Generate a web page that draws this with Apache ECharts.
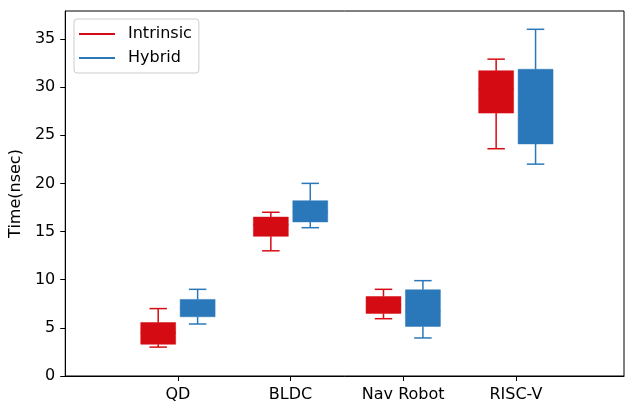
<!DOCTYPE html>
<html>
<head>
<meta charset="utf-8">
<script src="https://cdn.jsdelivr.net/npm/echarts@6/dist/echarts.min.js"></script>
<style>
html,body{margin:0;padding:0;background:#fff;}
#chart{width:625px;height:403px;}
</style>
</head>
<body>
<div id="chart"></div>
<script>
// Categories and values: [min, Q1, median, Q3, max]
const categories = ['QD', 'BLDC', 'Nav Robot', 'RISC-V'];
const intrinsic = [
  [3.0, 3.3, 4.5, 5.55, 7.0],
  [13.0, 14.5, 15.7, 16.5, 17.0],
  [5.95, 6.5, 7.4, 8.25, 9.0],
  [23.6, 27.3, 29.8, 31.7, 32.9]
];
const hybrid = [
  [5.4, 6.15, 7.0, 7.95, 9.0],
  [15.4, 16.0, 17.0, 18.2, 20.0],
  [3.95, 5.15, 6.7, 8.95, 9.9],
  [22.0, 24.1, 28.4, 31.85, 36.0]
];
const yTicks = [0, 5, 10, 15, 20, 25, 30, 35];

const RED = '#d50b13';
const BLUE = '#2a78b9';
const FONT = 'DejaVu Sans';
const BOX_W = 0.31;   // box width in data units
const OFFSET = 0.175; // group offset in data units

function toData(arr) {
  return arr.map((v, i) => [i + 1].concat(v));
}

function makeRender(offset) {
  return function (params, api) {
    const x = api.value(0) + offset;
    const mn = api.value(1), q1 = api.value(2), med = api.value(3), q3 = api.value(4), mx = api.value(5);
    const w = api.size([BOX_W, 0])[0];
    const pMin = api.coord([x, mn]);
    const pQ1 = api.coord([x, q1]);
    const pMed = api.coord([x, med]);
    const pQ3 = api.coord([x, q3]);
    const pMax = api.coord([x, mx]);
    const color = api.visual('color');
    const cx = pMin[0];
    const lineStyle = { stroke: color, lineWidth: 1.5, fill: null };
    return {
      type: 'group',
      children: [
        { type: 'line', shape: { x1: cx, y1: pMin[1], x2: cx, y2: pQ1[1] }, style: lineStyle },
        { type: 'line', shape: { x1: cx, y1: pQ3[1], x2: cx, y2: pMax[1] }, style: lineStyle },
        { type: 'line', shape: { x1: cx - w / 4, y1: pMin[1], x2: cx + w / 4, y2: pMin[1] }, style: lineStyle },
        { type: 'line', shape: { x1: cx - w / 4, y1: pMax[1], x2: cx + w / 4, y2: pMax[1] }, style: lineStyle },
        { type: 'rect', shape: { x: cx - w / 2, y: pQ3[1], width: w, height: pQ1[1] - pQ3[1] },
          style: { fill: color, stroke: color, lineWidth: 1, strokeOpacity: 0.5 } },
        { type: 'line', shape: { x1: cx - w / 2, y1: pMed[1], x2: cx + w / 2, y2: pMed[1] }, style: { stroke: color, lineWidth: 1.5 } }
      ]
    };
  };
}

const chart = echarts.init(document.getElementById('chart'), null, { renderer: 'canvas' });
chart.setOption({
  animation: false,
  backgroundColor: '#fff',
  textStyle: { fontFamily: FONT },
  grid: { left: 65, right: 1, top: 11, bottom: 27, show: true, borderColor: '#000', borderWidth: 1, backgroundColor: 'transparent' },
  legend: {
    left: 74, top: 19, orient: 'vertical',
    data: ['Intrinsic', 'Hybrid'],
    icon: 'rect', itemWidth: 36, itemHeight: 2, itemGap: 8,
    padding: [7, 7, 7, 5],
    borderColor: '#cccccc', borderWidth: 1, borderRadius: 3,
    backgroundColor: 'rgba(255,255,255,0.8)',
    textStyle: { fontFamily: FONT, fontSize: 16, color: '#000', padding: [0, 0, 0, 8] }
  },
  xAxis: {
    type: 'value', min: 0, max: 4.96, interval: 1,
    axisLine: { show: true, onZero: false, lineStyle: { color: '#000', width: 1 } },
    axisTick: { show: true, length: 5, customValues: [1, 2, 3, 4], lineStyle: { color: '#000', width: 1 } },
    axisLabel: { customValues: [1, 2, 3, 4], formatter: v => categories[Math.round(v) - 1] || '', fontFamily: FONT, fontSize: 16, color: '#000', margin: 11 },
    splitLine: { show: false }
  },
  yAxis: {
    type: 'value', min: 0, max: 37.9, interval: 5,
    name: 'Time(nsec)', nameLocation: 'middle', nameGap: 38,
    nameTextStyle: { fontFamily: FONT, fontSize: 16, color: '#000' },
    axisLine: { show: true, onZero: false, lineStyle: { color: '#000', width: 1 } },
    axisTick: { show: true, length: 5, customValues: yTicks, lineStyle: { color: '#000', width: 1 } },
    axisLabel: { customValues: yTicks, fontFamily: FONT, fontSize: 16, color: '#000', margin: 10 },
    splitLine: { show: false }
  },
  series: [
    { name: 'Intrinsic', type: 'custom', color: RED, itemStyle: { color: RED }, data: toData(intrinsic), renderItem: makeRender(-OFFSET), encode: { x: 0, y: [1, 2, 3, 4, 5] } },
    { name: 'Hybrid', type: 'custom', color: BLUE, itemStyle: { color: BLUE }, data: toData(hybrid), renderItem: makeRender(OFFSET), encode: { x: 0, y: [1, 2, 3, 4, 5] } }
  ]
});
</script>
</body>
</html>
